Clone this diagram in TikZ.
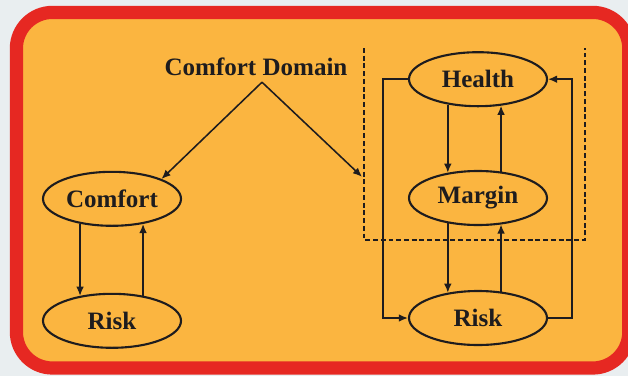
\documentclass[tikz,border=0pt]{standalone}
\usepackage{fontspec}
\setmainfont{Liberation Serif}
\usepackage{tikz}
\usetikzlibrary{positioning}
\usetikzlibrary{shapes.geometric,arrows.meta}

\definecolor{FrameRed}{RGB}{230,40,34}
\definecolor{PanelOrange}{RGB}{251,181,64}
\definecolor{PageGrey}{RGB}{233,238,240}
\definecolor{InkBlack}{RGB}{30,28,30}

\tikzset{
	statebox/.style={ellipse, draw=InkBlack, line width=1.5pt, minimum width=3.45cm, minimum height=1.35cm, inner sep=0pt, text=InkBlack, font=\bfseries\fontsize{17.8}{20}\selectfont},
	heading/.style={text=InkBlack, font=\bfseries\fontsize{17.8}{20}\selectfont, inner sep=0pt},
	flow/.style={draw=InkBlack, line width=1.1pt, -{Latex[length=6.5pt,width=5.5pt]}},
	domainbox/.style={draw=InkBlack, line width=1.4pt, dash pattern=on 3.5pt off 2pt},
}

\begin{document}
\begin{tikzpicture}
	
	% ---------------------
	% Page & Frame
	\useasboundingbox (0.00cm,0.00cm) rectangle (15.70cm,-9.40cm);
	\fill[PageGrey] (0.00cm,0.00cm) rectangle (15.70cm,-9.40cm);
	\draw[FrameRed, fill=PanelOrange, line width=0.33cm, rounded corners=0.90cm]
		(0.41cm,-0.31cm) rectangle (15.72cm,-9.20cm);
	
	% ---------------------
	% Dashed domain (open at the top)
	\coordinate (DomainTopLeft) at (9.10cm,-1.20cm);
	\coordinate (DomainBottomLeft) at (9.10cm,-6.00cm);
	\coordinate (DomainBottomRight) at (14.62cm,-6.00cm);
	\coordinate (DomainTopRight) at (14.62cm,-1.20cm);
	\draw[domainbox] (DomainTopLeft) -- (DomainBottomLeft) -- (DomainBottomRight) -- (DomainTopRight);
	\coordinate (DomainEdge) at (9.05cm,-4.42cm);
	
	% ---------------------
	% States
	\node[statebox] (Comfort) at (2.80cm,-4.97cm) {Comfort};
	\node[statebox] (RiskLeft) at (2.80cm,-8.02cm) {Risk};
	
	\node[statebox] (Health) at (11.95cm,-1.98cm) {Health};
	\node[statebox] (Margin) at (11.95cm,-4.95cm) {Margin};
	\node[statebox] (RiskRight) at (11.95cm,-7.95cm) {Risk};
	
	% ---------------------
	% Heading & split
	\node[heading, anchor=base] (ComfortDomain) at (6.40cm,-1.875cm) {Comfort Domain};
	\path (ComfortDomain.base) +(0.15cm,-0.18cm) coordinate (Split);
	
	\draw[flow] (Split) -- (Comfort.north east);
	\draw[flow] (Split) -- (DomainEdge);
	
	% ------------------------------------------------
	% Left loop
	\draw[flow] (Comfort.218) -- (RiskLeft.142);
	\draw[flow] (RiskLeft.39) -- (Comfort.321);
	
	% ------------------------------------------------
	% Right chain
	\draw[flow] (Health.220) -- (Margin.140);
	\draw[flow] (Margin.49) -- (Health.311);
	\draw[flow] (Margin.220) -- (RiskRight.140);
	\draw[flow] (RiskRight.49) -- (Margin.311);
	
	\draw[flow] (Health.west) -- ++(-0.63cm,0.00cm) |- (RiskRight.west);
	\draw[flow] (RiskRight.east) -- ++(0.60cm,0.00cm) |- (Health.east);
	
\end{tikzpicture}
\end{document}
